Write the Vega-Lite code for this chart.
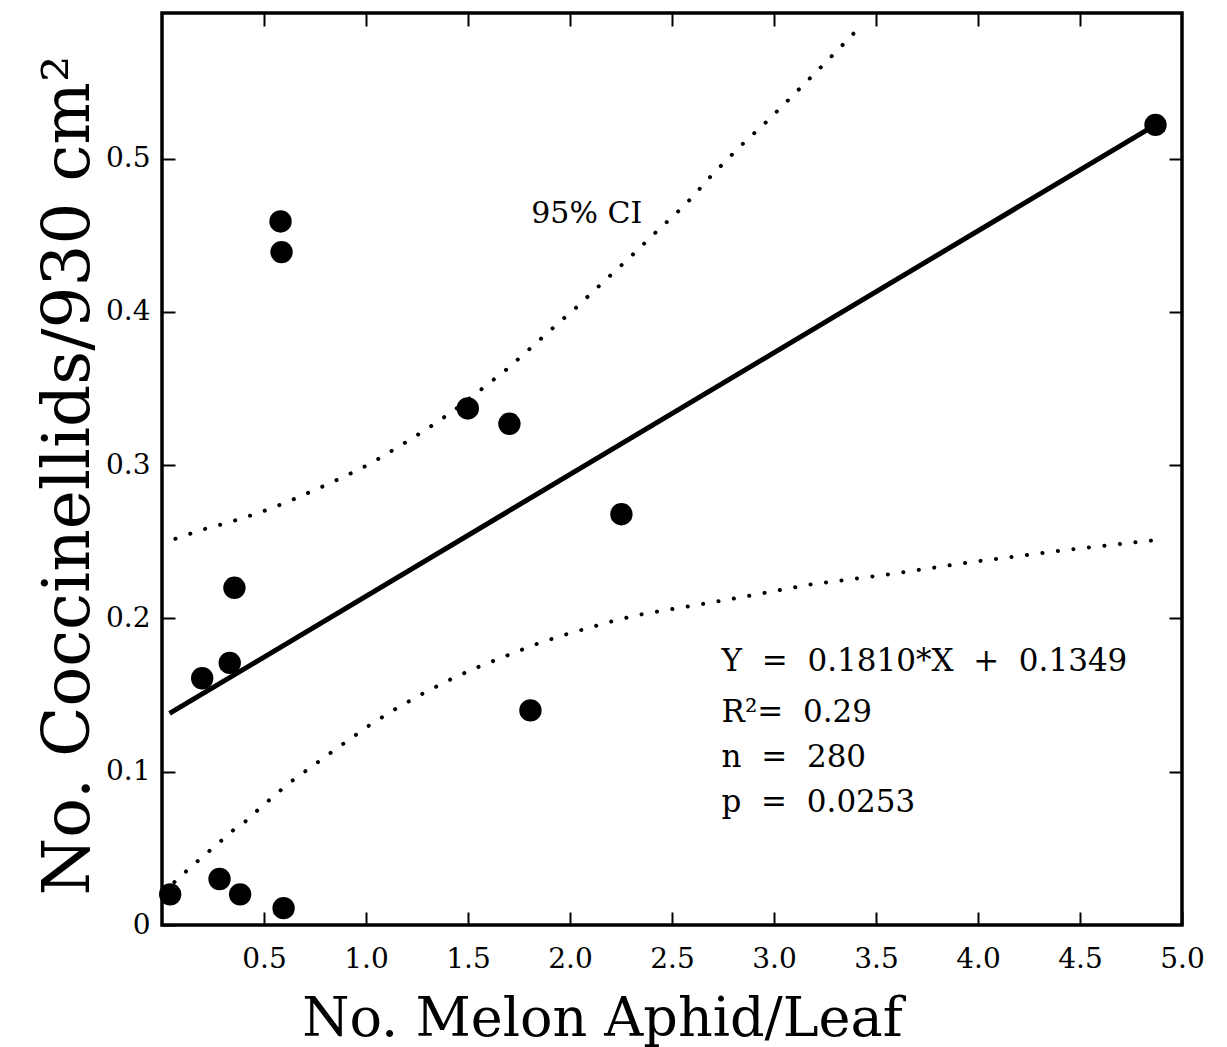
{
  "$schema": "https://vega.github.io/schema/vega-lite/v6.json",
  "width": 1020,
  "height": 912,
  "autosize": {"type": "none"},
  "padding": {"left": 162, "top": 13, "right": 45, "bottom": 122},
  "background": "white",
  "config": {
    "view": {"stroke": "black", "strokeWidth": 3.5},
    "font": "DejaVu Serif",
    "axis": {
      "domain": false,
      "grid": false,
      "labelFont": "DejaVu Serif",
      "labelFontSize": 28,
      "labelColor": "black",
      "tickColor": "black",
      "tickWidth": 2,
      "tickSize": -13,
      "titleFont": "DejaVu Serif",
      "titleFontWeight": "normal",
      "titleColor": "black"
    }
  },
  "resolve": {"axis": {"x": "independent", "y": "independent"}},
  "layer": [
    {
      "data": {"values": [
        {"x": 0.04, "y": 0.020},
        {"x": 0.282, "y": 0.030},
        {"x": 0.383, "y": 0.020},
        {"x": 0.596, "y": 0.011},
        {"x": 0.197, "y": 0.161},
        {"x": 0.332, "y": 0.171},
        {"x": 0.355, "y": 0.220},
        {"x": 0.581, "y": 0.459},
        {"x": 0.586, "y": 0.439},
        {"x": 1.499, "y": 0.337},
        {"x": 1.703, "y": 0.327},
        {"x": 1.806, "y": 0.140},
        {"x": 2.252, "y": 0.268},
        {"x": 4.87, "y": 0.522}
      ]},
      "mark": {"type": "circle", "size": 500, "opacity": 1, "color": "black"},
      "encoding": {
        "x": {
          "field": "x", "type": "quantitative",
          "scale": {"domain": [0, 5], "nice": false, "zero": false},
          "axis": {
            "orient": "bottom",
            "values": [0.5, 1, 1.5, 2, 2.5, 3, 3.5, 4, 4.5, 5],
            "format": ".1f",
            "labelPadding": 33,
            "labelFlush": false,
            "title": "No. Melon Aphid/Leaf",
            "titleFontSize": 54,
            "titleX": 440,
            "titleY": 110,
            "titleBaseline": "alphabetic",
            "titleAlign": "center"
          }
        },
        "y": {
          "field": "y", "type": "quantitative",
          "scale": {"domain": [0, 0.595], "nice": false, "zero": false},
          "axis": {
            "orient": "left",
            "values": [0, 0.1, 0.2, 0.3, 0.4, 0.5],
            "labelExpr": "datum.value == 0 ? '0' : format(datum.value, '.1f')",
            "labelPadding": 25,
            "labelFlush": false,
            "title": "No. Coccinellids/930 cm²",
            "titleFontSize": 66,
            "titleX": -74,
            "titleY": 462,
            "titleAngle": -90,
            "titleBaseline": "alphabetic",
            "titleAlign": "center"
          }
        }
      }
    },
    {
      "data": {"values": [
        {"x": 0.037, "y": 0.138},
        {"x": 4.87, "y": 0.522}
      ]},
      "mark": {"type": "line", "color": "black", "strokeWidth": 5, "clip": true},
      "encoding": {
        "x": {
          "field": "x", "type": "quantitative",
          "axis": {
            "orient": "top",
            "values": [0.5, 1, 1.5, 2, 2.5, 3, 3.5, 4, 4.5],
            "labels": false,
            "title": null
          }
        },
        "y": {
          "field": "y", "type": "quantitative",
          "axis": {
            "orient": "right",
            "values": [0.1, 0.2, 0.3, 0.4, 0.5],
            "labels": false,
            "title": null
          }
        }
      }
    },
    {
      "data": {"values": [
        {"x": 0.066, "y": 0.252},
        {"x": 0.199, "y": 0.258},
        {"x": 0.336, "y": 0.263},
        {"x": 0.478, "y": 0.269},
        {"x": 0.615, "y": 0.276},
        {"x": 0.752, "y": 0.284},
        {"x": 0.885, "y": 0.292},
        {"x": 1.022, "y": 0.301},
        {"x": 1.159, "y": 0.312},
        {"x": 1.292, "y": 0.323},
        {"x": 1.424, "y": 0.335},
        {"x": 1.561, "y": 0.349},
        {"x": 1.694, "y": 0.363},
        {"x": 1.762, "y": 0.371},
        {"x": 1.895, "y": 0.387},
        {"x": 2.032, "y": 0.403},
        {"x": 2.159, "y": 0.419},
        {"x": 2.297, "y": 0.436},
        {"x": 2.429, "y": 0.453},
        {"x": 2.566, "y": 0.470},
        {"x": 2.694, "y": 0.489},
        {"x": 2.826, "y": 0.507},
        {"x": 2.963, "y": 0.524},
        {"x": 3.091, "y": 0.541},
        {"x": 3.218, "y": 0.558},
        {"x": 3.350, "y": 0.576},
        {"x": 3.414, "y": 0.585}
      ]},
      "mark": {"type": "line", "color": "black", "strokeWidth": 4, "strokeCap": "round", "strokeDash": [0.1, 15.5], "clip": true},
      "encoding": {
        "x": {"field": "x", "type": "quantitative", "axis": null},
        "y": {"field": "y", "type": "quantitative", "axis": null}
      }
    },
    {
      "data": {"values": [
        {"x": 0.061, "y": 0.028},
        {"x": 0.135, "y": 0.037},
        {"x": 0.203, "y": 0.045},
        {"x": 0.274, "y": 0.053},
        {"x": 0.341, "y": 0.061},
        {"x": 0.413, "y": 0.068},
        {"x": 0.478, "y": 0.076},
        {"x": 0.548, "y": 0.084},
        {"x": 0.617, "y": 0.092},
        {"x": 0.751, "y": 0.105},
        {"x": 0.886, "y": 0.118},
        {"x": 1.024, "y": 0.131},
        {"x": 1.158, "y": 0.142},
        {"x": 1.292, "y": 0.152},
        {"x": 1.426, "y": 0.161},
        {"x": 1.561, "y": 0.169},
        {"x": 1.695, "y": 0.176},
        {"x": 1.829, "y": 0.183},
        {"x": 1.965, "y": 0.189},
        {"x": 2.096, "y": 0.194},
        {"x": 2.229, "y": 0.199},
        {"x": 2.362, "y": 0.203},
        {"x": 2.763, "y": 0.212},
        {"x": 3.169, "y": 0.222},
        {"x": 3.574, "y": 0.229},
        {"x": 3.98, "y": 0.237},
        {"x": 4.453, "y": 0.245},
        {"x": 4.863, "y": 0.251}
      ]},
      "mark": {"type": "line", "color": "black", "strokeWidth": 4, "strokeCap": "round", "strokeDash": [0.1, 15.5], "clip": true},
      "encoding": {
        "x": {"field": "x", "type": "quantitative", "axis": null},
        "y": {"field": "y", "type": "quantitative", "axis": null}
      }
    },
    {
      "data": {"values": [
        {"x": 1.81, "y": 0.464, "size": 30, "label": "95% CI"},
        {"x": 2.743, "y": 0.1716, "size": 31, "label": "Y\u00a0\u00a0=\u00a0\u00a00.1810*X\u00a0\u00a0+\u00a0\u00a00.1349"},
        {"x": 2.743, "y": 0.1383, "size": 31, "label": "R²=\u00a0\u00a00.29"},
        {"x": 2.743, "y": 0.1089, "size": 31, "label": "n\u00a0\u00a0=\u00a0\u00a0280"},
        {"x": 2.743, "y": 0.0796, "size": 31, "label": "p\u00a0\u00a0=\u00a0\u00a00.0253"}
      ]},
      "mark": {"type": "text", "align": "left", "baseline": "middle", "color": "black", "font": "DejaVu Serif"},
      "encoding": {
        "x": {"field": "x", "type": "quantitative", "axis": null},
        "y": {"field": "y", "type": "quantitative", "axis": null},
        "text": {"field": "label"},
        "size": {"field": "size", "type": "quantitative", "scale": null, "legend": null}
      }
    }
  ]
}
